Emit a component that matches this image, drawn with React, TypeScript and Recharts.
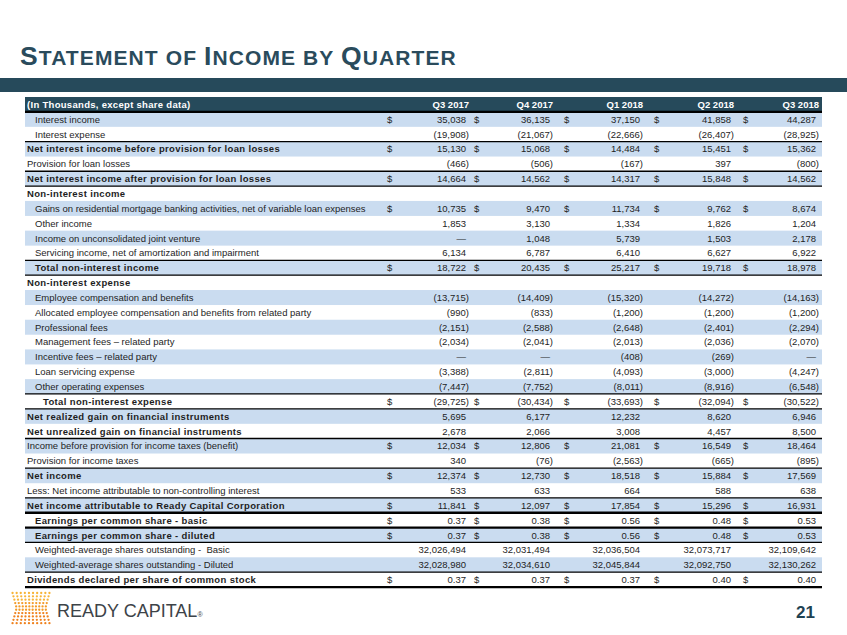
import React from 'react';
import { BarChart, Bar, XAxis, YAxis } from 'recharts';

const HEADER_LABEL = '(In Thousands, except share data)';
const QUARTERS = ['Q3 2017', 'Q4 2017', 'Q1 2018', 'Q2 2018', 'Q3 2018'];

const ROW_LABELS = [
  'Interest income',
  'Interest expense',
  'Net interest income before provision for loan losses',
  'Provision for loan losses',
  'Net interest income after provision for loan losses',
  'Non-interest income',
  'Gains on residential mortgage banking activities, net of variable loan expenses',
  'Other income',
  'Income on unconsolidated joint venture',
  'Servicing income, net of amortization and impairment',
  'Total non-interest income',
  'Non-interest expense',
  'Employee compensation and benefits',
  'Allocated employee compensation and benefits from related party',
  'Professional fees',
  'Management fees – related party',
  'Incentive fees – related party',
  'Loan servicing expense',
  'Other operating expenses',
  'Total non-interest expense',
  'Net realized gain on financial instruments',
  'Net unrealized gain on financial instruments',
  'Income before provision for income taxes (benefit)',
  'Provision for income taxes',
  'Net income',
  'Less: Net income attributable to non-controlling interest',
  'Net income attributable to Ready Capital Corporation',
  'Earnings per common share - basic',
  'Earnings per common share - diluted',
  'Weighted-average shares outstanding -  Basic',
  'Weighted-average shares outstanding - Diluted',
  'Dividends declared per share of common stock',
];

// null = section heading (no value), 0 = shown as a dash
const Q3_2017 = [35038, -19908, 15130, -466, 14664, null, 10735, 1853, 0, 6134, 18722, null, -13715, -990, -2151, -2034, 0, -3388, -7447, -29725, 5695, 2678, 12034, 340, 12374, 533, 11841, 0.37, 0.37, 32026494, 32028980, 0.37];
const Q4_2017 = [36135, -21067, 15068, -506, 14562, null, 9470, 3130, 1048, 6787, 20435, null, -14409, -833, -2588, -2041, 0, -2811, -7752, -30434, 6177, 2066, 12806, -76, 12730, 633, 12097, 0.38, 0.38, 32031494, 32034610, 0.37];
const Q1_2018 = [37150, -22666, 14484, -167, 14317, null, 11734, 1334, 5739, 6410, 25217, null, -15320, -1200, -2648, -2013, -408, -4093, -8011, -33693, 12232, 3008, 21081, -2563, 18518, 664, 17854, 0.56, 0.56, 32036504, 32045844, 0.37];
const Q2_2018 = [41858, -26407, 15451, 397, 15848, null, 9762, 1826, 1503, 6627, 19718, null, -14272, -1200, -2401, -2036, -269, -3000, -8916, -32094, 8620, 4457, 16549, -665, 15884, 588, 15296, 0.48, 0.48, 32073717, 32092750, 0.40];
const Q3_2018 = [44287, -28925, 15362, -800, 14562, null, 8674, 1204, 2178, 6922, 18978, null, -14163, -1200, -2294, -2070, 0, -4247, -6548, -30522, 6946, 8500, 18464, -895, 17569, 638, 16931, 0.53, 0.53, 32109642, 32130262, 0.40];

const COLUMNS = [Q3_2017, Q4_2017, Q1_2018, Q2_2018, Q3_2018];

const DOLLAR_ROWS = new Set([
  'Interest income',
  'Net interest income before provision for loan losses',
  'Net interest income after provision for loan losses',
  'Gains on residential mortgage banking activities, net of variable loan expenses',
  'Total non-interest income',
  'Total non-interest expense',
  'Income before provision for income taxes (benefit)',
  'Net income',
  'Net income attributable to Ready Capital Corporation',
  'Earnings per common share - basic',
  'Earnings per common share - diluted',
  'Dividends declared per share of common stock',
]);
const CENT_ROWS = new Set([
  'Earnings per common share - basic',
  'Earnings per common share - diluted',
  'Dividends declared per share of common stock',
]);

// row look: b = bold, i = indent level, s = shaded, r = rule above (1 thin, 2 thick)
const ROW_LOOK: Record<string, { b?: boolean; i: number; s?: boolean; r?: number }> = {
  'Interest income': { i: 1, s: true, r: 2 },
  'Interest expense': { i: 1 },
  'Net interest income before provision for loan losses': { b: true, i: 0, s: true, r: 1 },
  'Provision for loan losses': { i: 0 },
  'Net interest income after provision for loan losses': { b: true, i: 0, s: true, r: 1 },
  'Non-interest income': { b: true, i: 0, r: 1 },
  'Gains on residential mortgage banking activities, net of variable loan expenses': { i: 1, s: true },
  'Other income': { i: 1 },
  'Income on unconsolidated joint venture': { i: 1, s: true },
  'Servicing income, net of amortization and impairment': { i: 1 },
  'Total non-interest income': { b: true, i: 1, s: true, r: 1 },
  'Non-interest expense': { b: true, i: 0, r: 1 },
  'Employee compensation and benefits': { i: 1, s: true },
  'Allocated employee compensation and benefits from related party': { i: 1 },
  'Professional fees': { i: 1, s: true },
  'Management fees – related party': { i: 1 },
  'Incentive fees – related party': { i: 1, s: true },
  'Loan servicing expense': { i: 1 },
  'Other operating expenses': { i: 1, s: true },
  'Total non-interest expense': { b: true, i: 2, r: 1 },
  'Net realized gain on financial instruments': { b: true, i: 0, s: true, r: 1 },
  'Net unrealized gain on financial instruments': { b: true, i: 0 },
  'Income before provision for income taxes (benefit)': { i: 0, s: true, r: 1 },
  'Provision for income taxes': { i: 0 },
  'Net income': { b: true, i: 0, s: true, r: 1 },
  'Less: Net income attributable to non-controlling interest': { i: 0 },
  'Net income attributable to Ready Capital Corporation': { b: true, i: 0, s: true, r: 1 },
  'Earnings per common share - basic': { b: true, i: 1, r: 2 },
  'Earnings per common share - diluted': { b: true, i: 1, s: true, r: 2 },
  'Weighted-average shares outstanding -  Basic': { i: 1, r: 1 },
  'Weighted-average shares outstanding - Diluted': { i: 1, s: true },
  'Dividends declared per share of common stock': { b: true, i: 0, r: 1 },
};

const tableData = [
  { label: HEADER_LABEL, header: true, full: 1, values: QUARTERS },
  ...ROW_LABELS.map((label, k) => ({ label, header: false, full: 1, values: COLUMNS.map((c) => c[k]) })),
];

const NAVY = '#264a5b';
const SHADE = '#cadcf0';
const INK = '#1e1e1e';
const FONT = '"Liberation Sans", Arial, sans-serif';

const NEG_RIGHT = [469, 553, 643, 734, 819];
const DOLLAR_X = [387, 474, 564, 654, 743];
const INDENT = [2, 10, 18];

const fmt = (v: number | null, cents: boolean) => {
  if (v === null || v === undefined) return '';
  if (v === 0) return '—';
  const s = Math.abs(v).toLocaleString('en-US', {
    minimumFractionDigits: cents ? 2 : 0,
    maximumFractionDigits: cents ? 2 : 0,
  });
  return v < 0 ? `(${s})` : s;
};

const RowShape = (props: any) => {
  const { x, y, width, height, payload, index } = props;
  const cy = y + height / 2 + 3.4;
  if (payload.header) {
    return (
      <g>
        <rect x={x} y={y} width={width} height={height + 2} fill={NAVY} />
        <text x={x + 2} y={cy + 0.5} fontFamily={FONT} fontSize={9.5} fontWeight="bold" letterSpacing={0.3} fill="#fff">
          {payload.label}
        </text>
        {payload.values.map((q: string, j: number) => (
          <text key={j} x={NEG_RIGHT[j]} y={cy + 0.5} textAnchor="end" fontFamily={FONT} fontSize={9.5} fontWeight="bold" fill="#fff">
            {q}
          </text>
        ))}
      </g>
    );
  }
  const look = ROW_LOOK[payload.label] || { i: 0 };
  const cents = CENT_ROWS.has(payload.label);
  const dollar = DOLLAR_ROWS.has(payload.label);
  const last = index === tableData.length - 1;
  return (
    <g>
      {look.s && <rect x={x} y={y} width={width} height={height} fill={SHADE} />}
      {look.r && (
        <line x1={x} x2={x + width} y1={y} y2={y} stroke="#000" strokeWidth={look.r === 2 ? 2.3 : 1.3} />
      )}
      {last && <line x1={x} x2={x + width} y1={y + height} y2={y + height} stroke="#000" strokeWidth={2.3} />}
      <text
        x={x + INDENT[look.i]}
        y={cy}
        fontFamily={FONT}
        fontSize={9.5}
        fontWeight={look.b ? 'bold' : 'normal'}
        letterSpacing={look.b ? 0.35 : 0}
        fill={INK}
        style={{ whiteSpace: 'pre' }}
      >
        {payload.label}
      </text>
      {payload.values.map((v: number | null, j: number) => {
        if (v === null) return null;
        const txt = fmt(v, cents);
        const right = v < 0 ? NEG_RIGHT[j] : NEG_RIGHT[j] - 3;
        return (
          <g key={j}>
            {dollar && (
              <text x={DOLLAR_X[j]} y={cy} fontFamily={FONT} fontSize={9.5} fill={INK}>
                $
              </text>
            )}
            <text x={right} y={cy} textAnchor="end" fontFamily={FONT} fontSize={9.5} fill={INK}>
              {txt}
            </text>
          </g>
        );
      })}
    </g>
  );
};

const LogoDots = () => {
  const dots: React.ReactNode[] = [];
  const rows = 10;
  const cols = 10;
  for (let r = 0; r < rows; r++) {
    const t = r / (rows - 1);
    const pinch = 1 - 0.22 * (1 - Math.abs(t - 0.5) * 2);
    const col = t < 0.3 ? '#f7b437' : t < 0.65 ? '#f39a26' : '#ef811d';
    for (let c = 0; c < cols; c++) {
      const off = (c - (cols - 1) / 2) * 4.1 * pinch;
      dots.push(<circle key={`${c}-${r}`} cx={31 + off} cy={593 + r * 3.35} r={1.15} fill={col} />);
    }
  }
  return <g>{dots}</g>;
};

export default function App() {
  return (
    <div style={{ position: 'absolute', left: 0, top: 0, width: 847, height: 635, background: '#fff', overflow: 'hidden' }}>
      <svg width={847} height={635} style={{ position: 'absolute', left: 0, top: 0 }}>
        <text x={20} y={65} fontFamily={FONT} fontWeight="bold" fill="#2a4b5c" letterSpacing={1.1}>
          <tspan fontSize={26.5}>S</tspan>
          <tspan fontSize={21}>TATEMENT OF </tspan>
          <tspan fontSize={26.5}>I</tspan>
          <tspan fontSize={21}>NCOME BY </tspan>
          <tspan fontSize={26.5}>Q</tspan>
          <tspan fontSize={21}>UARTER</tspan>
        </text>
        <rect x={0} y={78} width={847} height={14} fill={NAVY} />
        <LogoDots />
        <text x={57} y={617} fontFamily={FONT} fontSize={18} fill="#3d4348">
          READY CAPITAL<tspan fontSize={7}>®</tspan>
        </text>
        <text x={815} y={618} textAnchor="end" fontFamily={FONT} fontSize={17} fontWeight="bold" fill="#1f4252">
          21
        </text>
      </svg>
      <div style={{ position: 'absolute', left: 0, top: 0 }}>
        <BarChart
          width={847}
          height={635}
          data={tableData}
          layout="vertical"
          barCategoryGap={0}
          barGap={0}
          margin={{ top: 97, right: 25, bottom: 48, left: 25 }}
        >
          <XAxis type="number" domain={[0, 1]} hide />
          <YAxis type="category" dataKey="label" hide />
          <Bar dataKey="full" isAnimationActive={false} shape={RowShape} />
        </BarChart>
      </div>
    </div>
  );
}
